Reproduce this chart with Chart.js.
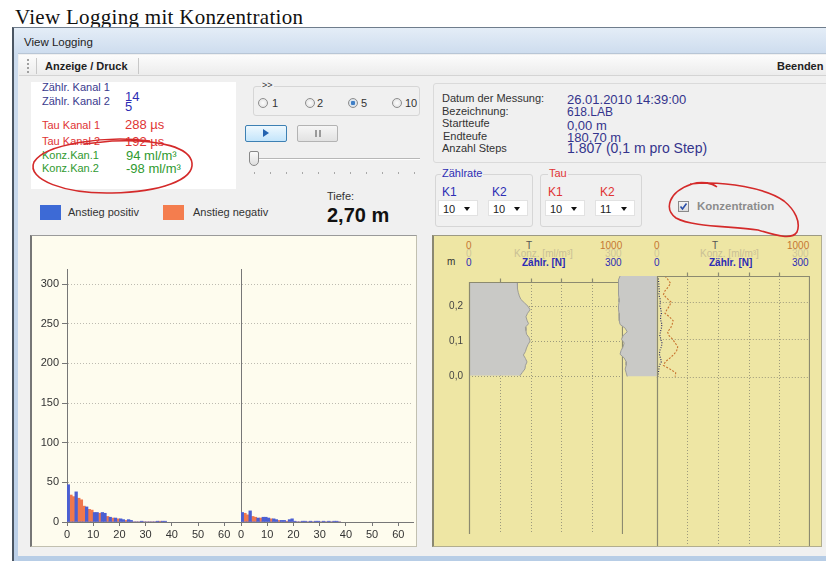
<!DOCTYPE html>
<html lang="de">
<head>
<meta charset="utf-8">
<title>View Logging mit Konzentration</title>
<script src="https://cdn.jsdelivr.net/npm/chart.js@4.4.1/dist/chart.umd.min.js"></script>
<style>
  body { margin: 0; width: 826px; height: 561px; position: relative; overflow: hidden; background: #fff;
         font-family: "Liberation Sans", Arial, sans-serif; font-size: 11px; color: #222; }
  .a { position: absolute; white-space: nowrap; line-height: 1; }
  .box { position: absolute; box-sizing: border-box; }
  .v { font-size: 13px; }
  .blue { color: #3a3a8e; }
  .blueV { color: #2d2db4; }
  .red { color: #e03434; }
  .green { color: #2f9a2f; }
  .navy { color: #34348c; }
  .radio { position: absolute; width: 10px; height: 10px; box-sizing: border-box; border: 1px solid #8d8d8d;
           border-radius: 50%; background: radial-gradient(#fdfdfd, #dcdcdc); }
  .drop { position: absolute; width: 40px; height: 16px; box-sizing: border-box; background: #fff; border: 1px solid #e2e2e2; }
  .drop span { position: absolute; left: 4px; top: 3px; font-size: 11px; line-height: 1; }
  .drop i { position: absolute; left: 25px; top: 6px; width: 0; height: 0; border-left: 3px solid transparent;
            border-right: 3px solid transparent; border-top: 4px solid #111; }
  .group { position: absolute; box-sizing: border-box; border: 1px solid #d6d6d6; border-radius: 3px; }
  .hdr { position: absolute; font-size: 10px; line-height: 1; white-space: nowrap; }
  canvas { position: absolute; }
</style>
</head>
<body>

<div class="a" style="left:15px;top:5px;font:21px 'Liberation Serif','Times New Roman',serif;letter-spacing:0.3px;color:#111">View Logging mit Konzentration</div>

<!-- window frame -->
<div class="box" style="left:12px;top:27px;width:814px;height:534px;background:linear-gradient(#e4edf7,#cddcee 26px,#bcd0e8);border-left:2px solid #4b5663;border-top:1px solid #6f7d8c"></div>
<div class="a" style="left:24px;top:37px;font-size:11.5px;color:#1e1e1e">View Logging</div>
<div class="box" style="left:18px;top:53px;width:808px;height:503px;background:#f0f0f0;border-top:1px solid #b8c6d6"></div>

<!-- toolbar -->
<div class="box" style="left:19px;top:55px;width:807px;height:21px;background:linear-gradient(#fcfcfc,#ececec);border-bottom:1px solid #d4d4d4"></div>
<div class="box" style="left:27px;top:59px;width:2px;height:14px;border-left:2px dotted #a0a0a0"></div>
<div class="box" style="left:36px;top:58px;width:1px;height:16px;background:#c8c8c8"></div>
<div class="a" style="left:45px;top:61px;font-weight:bold;font-size:11px;color:#222">Anzeige / Druck</div>
<div class="box" style="left:138px;top:58px;width:1px;height:16px;background:#c8c8c8"></div>
<div class="a" style="left:777px;top:61px;font-weight:bold;font-size:11px;color:#222">Beenden</div>

<!-- left info box -->
<div class="box" style="left:31px;top:82px;width:205px;height:107px;background:#fff"></div>
<div class="a blue" style="left:42px;top:82px">Zählr. Kanal 1</div>
<div class="a v blueV" style="left:125px;top:90px">14</div>
<div class="a blue" style="left:42px;top:96px">Zählr. Kanal 2</div>
<div class="a v blueV" style="left:125px;top:100px">5</div>
<div class="a red" style="left:42px;top:120px">Tau Kanal 1</div>
<div class="a v red" style="left:125px;top:118px">288 µs</div>
<div class="a red" style="left:42px;top:136px">Tau Kanal 2</div>
<div class="a v red" style="left:125px;top:135px">192 µs</div>
<div class="a green" style="left:42px;top:150px">Konz.Kan.1</div>
<div class="a v green" style="left:126px;top:149px">94 ml/m³</div>
<div class="a green" style="left:42px;top:163px">Konz.Kan.2</div>
<div class="a v green" style="left:126px;top:162px">-98 ml/m³</div>

<!-- speed radios -->
<div class="group" style="left:253px;top:86px;width:167px;height:30px"></div>
<div class="a" style="left:261px;top:81px;font-size:9px;background:#f0f0f0;padding:0 1px;color:#333">&gt;&gt;</div>
<div class="radio" style="left:258px;top:98px"></div>
<div class="a" style="left:272px;top:98px;font-size:11px;color:#333">1</div>
<div class="radio" style="left:305px;top:98px"></div>
<div class="a" style="left:317px;top:98px;font-size:11px;color:#333">2</div>
<div class="radio" style="left:348px;top:98px;background:radial-gradient(#3f7fc6 35%,#dbe6f1 45%,#d8d8d8)"></div>
<div class="a" style="left:361px;top:98px;font-size:11px;color:#333">5</div>
<div class="radio" style="left:392px;top:98px"></div>
<div class="a" style="left:405px;top:98px;font-size:11px;color:#333">10</div>

<!-- play / pause -->
<div class="box" style="left:245px;top:125px;width:42px;height:17px;border:1px solid #3d80b3;border-radius:2px;background:linear-gradient(#eef8fe,#c4e5fb)"></div>
<div class="box" style="left:263px;top:129px;width:0;height:0;border-top:4px solid transparent;border-bottom:4px solid transparent;border-left:6px solid #2463b0"></div>
<div class="box" style="left:297px;top:125px;width:41px;height:17px;border:1px solid #b3b3b3;border-radius:2px;background:linear-gradient(#f6f6f6,#e2e2e2)"></div>
<div class="box" style="left:315px;top:130px;width:2px;height:7px;background:#9a9a9a"></div>
<div class="box" style="left:319px;top:130px;width:2px;height:7px;background:#9a9a9a"></div>

<!-- slider -->
<div class="box" style="left:258px;top:158px;width:162px;height:2px;border-top:1px solid #b7b7b7;border-bottom:1px solid #fff"></div>
<div class="box" style="left:249px;top:151px;width:10px;height:15px;border:1px solid #888;border-radius:2px 2px 5px 5px;background:linear-gradient(#fafafa,#dedede)"></div>
<div class="box" style="left:254px;top:172px;width:166px;height:2px;background:repeating-linear-gradient(90deg,#a8a8a8 0 1px,transparent 1px 16px)"></div>

<!-- legend and depth -->
<div class="box" style="left:40px;top:205px;width:21px;height:15px;background:#3d6ad6"></div>
<div class="a" style="left:68px;top:207px;color:#333">Anstieg positiv</div>
<div class="box" style="left:163px;top:205px;width:21px;height:15px;background:#f47d4e"></div>
<div class="a" style="left:193px;top:207px;color:#333">Anstieg negativ</div>
<div class="a" style="left:327px;top:191px;color:#333">Tiefe:</div>
<div class="a" style="left:327px;top:205px;font-size:20px;font-weight:bold;color:#111">2,70 m</div>

<!-- right info box -->
<div class="group" style="left:433px;top:83px;width:400px;height:80px;border-color:#dadada"></div>
<div class="a" style="left:442px;top:93px;color:#333">Datum der Messung:</div>
<div class="a" style="left:442px;top:106px;color:#333">Bezeichnung:</div>
<div class="a" style="left:442px;top:118px;color:#333">Startteufe</div>
<div class="a" style="left:443px;top:131px;color:#333">Endteufe</div>
<div class="a" style="left:442px;top:143px;color:#333">Anzahl Steps</div>
<div class="a v navy" style="left:567px;top:93px">26.01.2010 14:39:00</div>
<div class="a navy" style="left:567px;top:106px;font-size:12px">618.LAB</div>
<div class="a v navy" style="left:567px;top:119px">0,00 m</div>
<div class="a v navy" style="left:567px;top:131px">180,70 m</div>
<div class="a navy" style="left:567px;top:141px;font-size:14px">1.807 (0,1 m pro Step)</div>

<!-- Zählrate / Tau groups -->
<div class="group" style="left:435px;top:174px;width:98px;height:53px"></div>
<div class="a blueV" style="left:441px;top:168px;background:#f0f0f0;padding:0 1px">Zählrate</div>
<div class="a blueV" style="left:442px;top:186px;font-size:12px">K1</div>
<div class="a blueV" style="left:492px;top:186px;font-size:12px">K2</div>
<div class="drop" style="left:438px;top:200px"><span>10</span><i></i></div>
<div class="drop" style="left:488px;top:200px"><span>10</span><i></i></div>
<div class="group" style="left:540px;top:174px;width:102px;height:53px"></div>
<div class="a red" style="left:548px;top:168px;background:#f0f0f0;padding:0 1px">Tau</div>
<div class="a red" style="left:548px;top:186px;font-size:12px">K1</div>
<div class="a red" style="left:600px;top:186px;font-size:12px">K2</div>
<div class="drop" style="left:545px;top:200px"><span>10</span><i></i></div>
<div class="drop" style="left:595px;top:200px"><span>11</span><i></i></div>

<!-- Konzentration checkbox -->
<div class="box" style="left:678px;top:201px;width:11px;height:11px;border:1px solid #8a8a8a;background:linear-gradient(#f4f4f4,#dcdcdc)"></div>
<svg class="box" style="left:678px;top:201px" width="11" height="11"><path d="M2.5 5.5 L4.5 8 L8.5 2.5" stroke="#2b4fa8" stroke-width="1.6" fill="none"/></svg>
<div class="a" style="left:697px;top:201px;font-weight:bold;color:#8c8c8c;font-size:11.5px">Konzentration</div>

<!-- chart panels -->
<div class="box" style="left:30px;top:235px;width:387px;height:312px;background:#fefcee;border:1px solid #c2c0b0;border-left:2px solid #767676;border-top:1px solid #9a9a9a"></div>
<div class="box" style="left:432px;top:235px;width:390px;height:312px;background:#eee6a4;border:1px solid #b2ae8e;border-left:2px solid #8a8872;border-top:1px solid #9c9a84"></div>
<div class="box" style="left:18px;top:556px;width:808px;height:5px;background:#b7cde6"></div>

<!-- log track headers -->
<div class="hdr" style="left:447px;top:257px;color:#333">m</div>
<div class="hdr" style="left:466px;top:241px;color:#c57732">0</div>
<div class="hdr" style="left:526px;top:241px;color:#555">T</div>
<div class="hdr" style="left:600px;top:241px;color:#c57732">1000</div>
<div class="hdr" style="left:466px;top:249px;color:#cfc69a">0</div>
<div class="hdr" style="left:514px;top:249px;color:#c9c095">Konz. [ml/m³]</div>
<div class="hdr" style="left:605px;top:249px;color:#cfc69a">300</div>
<div class="hdr" style="left:466px;top:258px;color:#2b2bb5">0</div>
<div class="hdr" style="left:522px;top:258px;color:#2b2bb5;font-weight:bold">Zählr. [N]</div>
<div class="hdr" style="left:605px;top:258px;color:#2b2bb5">300</div>
<div class="hdr" style="left:654px;top:241px;color:#c57732">0</div>
<div class="hdr" style="left:712px;top:241px;color:#555">T</div>
<div class="hdr" style="left:787px;top:241px;color:#c57732">1000</div>
<div class="hdr" style="left:654px;top:249px;color:#cfc69a">0</div>
<div class="hdr" style="left:700px;top:249px;color:#c9c095">Konz. [ml/m³]</div>
<div class="hdr" style="left:792px;top:249px;color:#cfc69a">300</div>
<div class="hdr" style="left:654px;top:258px;color:#2b2bb5">0</div>
<div class="hdr" style="left:709px;top:258px;color:#2b2bb5;font-weight:bold">Zählr. [N]</div>
<div class="hdr" style="left:792px;top:258px;color:#2b2bb5">300</div>

<canvas id="histK1" width="210" height="289" style="left:31px;top:259px"></canvas>
<canvas id="histK2" width="186" height="289" style="left:231px;top:259px"></canvas>
<canvas id="track1" width="184" height="276" style="left:439px;top:270px"></canvas>
<canvas id="track2" width="192" height="276" style="left:618px;top:270px"></canvas>

<!-- hand drawn red marks -->
<svg class="box" style="left:0;top:0;pointer-events:none" width="826" height="561">
  <path d="M150 141 C105 135 45 144 34 162 C26 180 66 194 112 193 C160 192 194 180 192 163 C190 148 162 139 112 141 L84 144"
        stroke="#d42a2a" stroke-width="1.6" fill="none"/>
  <path d="M690 184 C725 180 768 189 784 201 C795 210 801 222 797 232 C792 240 778 236 758 230 C730 226 692 227 676 218 C664 209 668 192 692 184 C702 181 712 183 717 187"
        stroke="#d42a2a" stroke-width="1.6" fill="none"/>
</svg>

<script>
// Histogram bins: counts per bin of width 1, for both channels
const binStarts = [0, 1, 2, 3, 4, 5, 6, 7, 8, 9, 10, 11, 12, 13, 14, 15, 16, 17, 18, 19,
                   20, 21, 22, 23, 24, 25, 26, 27, 28, 29, 30, 31, 32, 33, 34, 35, 36, 37];
const k1Positiv = [47, 0, 0, 38, 0, 0, 0, 19, 0, 0, 12, 12, 0, 12, 11, 0, 6, 0, 5, 0,
                   4, 3, 0, 3, 2, 0, 0, 0, 1, 0, 0, 0, 0, 0, 1, 0, 1, 1];
const k1Negativ = [0, 34, 32, 0, 30, 28, 20, 0, 16, 15, 0, 0, 11, 0, 0, 7, 0, 5, 0, 4,
                   0, 0, 2, 0, 0, 0, 0, 0, 0, 0, 0, 0, 0, 0, 0, 1, 0, 0];
const k2Positiv = [12, 0, 0, 14, 0, 0, 5, 0, 6, 6, 5, 0, 4, 3, 0, 2, 2, 0, 3, 4,
                   1, 0, 0, 1, 1, 0, 1, 0, 1, 1, 0, 1, 0, 1, 0, 1, 1, 0];
const k2Negativ = [0, 11, 9, 0, 7, 6, 0, 5, 0, 0, 0, 4, 0, 0, 2, 0, 0, 1, 0, 0,
                   0, 0, 0, 0, 0, 0, 0, 0, 0, 0, 0, 0, 0, 0, 0, 0, 0, 0];
const countMax = 319;
const countStep = 50;
const binAxisStep = 10;

// Logging tracks: depth in m and values per depth step
const depths = [0.27, 0.26, 0.25, 0.24, 0.23, 0.22, 0.21, 0.20, 0.19, 0.18, 0.17, 0.16, 0.15, 0.14,
                0.13, 0.12, 0.11, 0.10, 0.09, 0.08, 0.07, 0.06, 0.05, 0.04, 0.03, 0.02, 0.01, 0.00];
const zaehlrateK1 = [94, 94, 95, 96, 98, 101, 108, 115, 119, 114, 111, 113, 116, 110,
                     111, 112, 117, 119, 115, 112, 110, 106, 110, 113, 110, 109, 104, 99];
// K2 count rate is drawn leftwards from the second track
const zaehlrateK2 = [72, 75, 75, 75, 75, 75, 74, 74, 75, 75, 74, 74, 73, 72,
                     62, 58, 66, 69, 64, 66, 70, 72, 64, 60, 60, 62, 60, 58];
const konzK2 = [16, 22, 27, 22, 16, 13, 20, 28, 25, 20, 16, 25, 32, 30,
                27, 21, 24, 31, 36, 41, 39, 34, 26, 17, 13, 26, 37, 36];
const tauK2 = [3, 3, 4, 4, 5, 4, 6, 7, 6, 8, 9, 7, 8, 10,
               9, 7, 6, 8, 10, 9, 6, 5, 7, 9, 5, 4, 3, 2];
const depthTicks = [0, 0.1, 0.2];
const depthMin = -0.455;
const depthMax = 0.27;
const trackMax = 300;
const trackGrid = [60, 120, 180, 240];

const uiFont = "'Liberation Sans', Arial, sans-serif";
const blueBar = "#4b5fd2";
const orangeBar = "#f0784d";

// Turn a bin list into bar data centred in each bin
function binData(values) {
    return binStarts.map((b, i) => ({ x: b + 0.5, y: values[i] }));
}

// One histogram panel (Kanal 1 or Kanal 2)
function histChart(id, positiv, negativ, withLabels, xMax) {
    return new Chart(document.getElementById(id), {
        type: "bar",
        data: {
            datasets: [
                { data: binData(positiv), backgroundColor: blueBar, order: 0 },
                { data: binData(negativ), backgroundColor: orangeBar, order: 1 }
            ]
        },
        options: {
            responsive: false,
            animation: false,
            events: [],
            layout: { padding: { top: 10, right: withLabels ? 0 : 4 } },
            plugins: { legend: { display: false }, tooltip: { enabled: false } },
            datasets: { bar: { grouped: false, categoryPercentage: 1, barPercentage: 1, borderWidth: 0 } },
            scales: {
                x: {
                    type: "linear", min: 0, max: xMax, offset: false,
                    afterFit: s => { s.height = 26; },
                    grid: { offset: false, drawOnChartArea: false, tickLength: 4, color: "#777", tickColor: "#777" },
                    border: { color: "#777" },
                    ticks: { stepSize: binAxisStep, includeBounds: false, autoSkip: false, maxRotation: 0,
                             padding: 2, color: "#333", font: { family: uiFont, size: 11 } }
                },
                y: {
                    min: 0, max: countMax,
                    afterFit: s => { s.width = withLabels ? 36 : 10; },
                    grid: { color: "#bdbbb0", tickColor: "#777", tickLength: 5, drawTicks: withLabels },
                    border: { color: "#777", dash: [1, 2] },
                    ticks: { display: withLabels, stepSize: countStep, includeBounds: false, padding: 3,
                             color: "#333", font: { family: uiFont, size: 11 } }
                }
            }
        }
    });
}

histChart("histK1", k1Positiv, k1Negativ, true, 66.4);
histChart("histK2", k2Positiv, k2Negativ, false, 65.6);

// Grid of a logging track: dotted lines first, solid track frame after the curves
const logGrid = {
    id: "logGrid",
    beforeDatasetsDraw(chart) {
        const { ctx, chartArea, scales: { x, y } } = chart;
        const left = x.getPixelForValue(0);
        const right = x.getPixelForValue(trackMax);
        ctx.save();
        ctx.strokeStyle = "#9d9a7c";
        ctx.lineWidth = 1;
        ctx.setLineDash([1, 2]);
        ctx.beginPath();
        trackGrid.forEach(v => {
            const px = Math.round(x.getPixelForValue(v)) + 0.5;
            ctx.moveTo(px, chartArea.top);
            ctx.lineTo(px, chartArea.bottom);
        });
        depthTicks.forEach(d => {
            const py = Math.round(y.getPixelForValue(d)) + 0.5;
            ctx.moveTo(left, py);
            ctx.lineTo(right, py);
        });
        ctx.stroke();
        ctx.restore();
    },
    afterDatasetsDraw(chart) {
        const { ctx, chartArea, scales: { x } } = chart;
        const left = Math.round(x.getPixelForValue(0)) + 0.5;
        const right = Math.round(x.getPixelForValue(trackMax)) - 0.5;
        const top = chartArea.top + 0.5;
        ctx.save();
        ctx.strokeStyle = "#8c8a70";
        ctx.lineWidth = 1.2;
        ctx.beginPath();
        ctx.moveTo(left, chartArea.bottom);
        ctx.lineTo(left, top);
        ctx.lineTo(right, top);
        ctx.lineTo(right, chartArea.bottom);
        trackGrid.forEach(v => {
            const px = Math.round(x.getPixelForValue(v)) + 0.5;
            ctx.moveTo(px, top - 4);
            ctx.lineTo(px, top);
        });
        ctx.stroke();
        ctx.restore();
    }
};

function depthSeries(values, sign) {
    return depths.map((d, i) => ({ x: sign * values[i], y: d }));
}

function trackChart(id, datasets, xMin, withLabels) {
    return new Chart(document.getElementById(id), {
        type: "scatter",
        data: { datasets },
        options: {
            indexAxis: "y",
            responsive: false,
            animation: false,
            events: [],
            layout: { padding: { top: 6 } },
            plugins: { legend: { display: false }, tooltip: { enabled: false } },
            elements: { point: { radius: 0 }, line: { tension: 0 } },
            scales: {
                x: { type: "linear", min: xMin, max: trackMax, display: false },
                y: {
                    type: "linear", min: depthMin, max: depthMax, display: withLabels,
                    afterBuildTicks: s => { s.ticks = depthTicks.map(v => ({ value: v })); },
                    afterFit: s => { s.width = withLabels ? 30 : 0; },
                    grid: { display: false, drawTicks: false },
                    border: { display: false },
                    ticks: { padding: 6, color: "#444", font: { family: uiFont, size: 10 },
                             callback: v => v.toFixed(1).replace(".", ",") }
                }
            }
        },
        plugins: [logGrid]
    });
}

trackChart("track1", [
    { data: depthSeries(zaehlrateK1, 1), showLine: true, fill: "origin",
      backgroundColor: "#c9c9c6", borderColor: "#9c9c98", borderWidth: 1 }
], 0, true);

trackChart("track2", [
    { data: depthSeries(zaehlrateK2, -1), showLine: true, fill: "origin",
      backgroundColor: "#c9c9c6", borderColor: "#9c9c98", borderWidth: 1 },
    { data: depthSeries(tauK2, 1), showLine: true, fill: false,
      borderColor: "#2c2c66", borderWidth: 1.2, borderDash: [1, 1.5] },
    { data: depthSeries(konzK2, 1), showLine: true, fill: false,
      borderColor: "#c8742f", borderWidth: 1.1, borderDash: [2, 1.5] }
], -76, false);
</script>
</body>
</html>
